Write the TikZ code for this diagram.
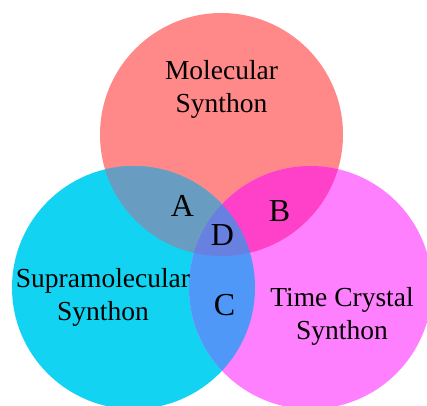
\documentclass[tikz,border=0pt]{standalone}
\usepackage{fontspec}
\setmainfont{Liberation Serif}
\definecolor{molred}{RGB}{255,136,136}
\definecolor{supcyan}{RGB}{18,212,242}
\definecolor{timemag}{RGB}{255,128,255}
\definecolor{partA}{RGB}{104,156,192}
\definecolor{partB}{RGB}{255,64,200}
\definecolor{partC}{RGB}{80,152,248}
\definecolor{partD}{RGB}{104,128,224}
\begin{document}
\begin{tikzpicture}[x=1pt,y=-1pt,every node/.style={inner sep=0pt},set/.style={align=center,font=\fontsize{27.5}{33}\selectfont},part/.style={font=\fontsize{32}{32}\selectfont}]
\useasboundingbox (0,0) rectangle (427,405);
\def\molset{(221.5,134.5) circle (121.5pt)}
\def\supset{(133.5,287.5) circle (121.5pt)}
\def\timeset{(310.5,287.5) circle (121.5pt)}
% the three sets
\fill[molred] \molset;
\fill[supcyan] \supset;
\fill[timemag] \timeset;
% pairwise overlaps
\begin{scope}
    \clip \molset;
    \fill[partA] \supset;
    \fill[partB] \timeset;
\end{scope}
\begin{scope}
    \clip \supset;
    \fill[partC] \timeset;
    \clip \timeset;
    \fill[partD] \molset;
\end{scope}
% labels
\node[set] (mol) at (221.5,89.3) {Molecular\\Synthon};
\node[set] (sup) at (103,297.3) {Supramolecular\\Synthon};
\node[set] (time) at (342,316.3) {Time Crystal\\Synthon};
\node[part] (a) at (182.5,205.5) {A};
\node[part] (b) at (279.5,211) {B};
\node[part] (d) at (222.5,235.5) {D};
\node[part] (c) at (224.5,305) {C};
\end{tikzpicture}
\end{document}
